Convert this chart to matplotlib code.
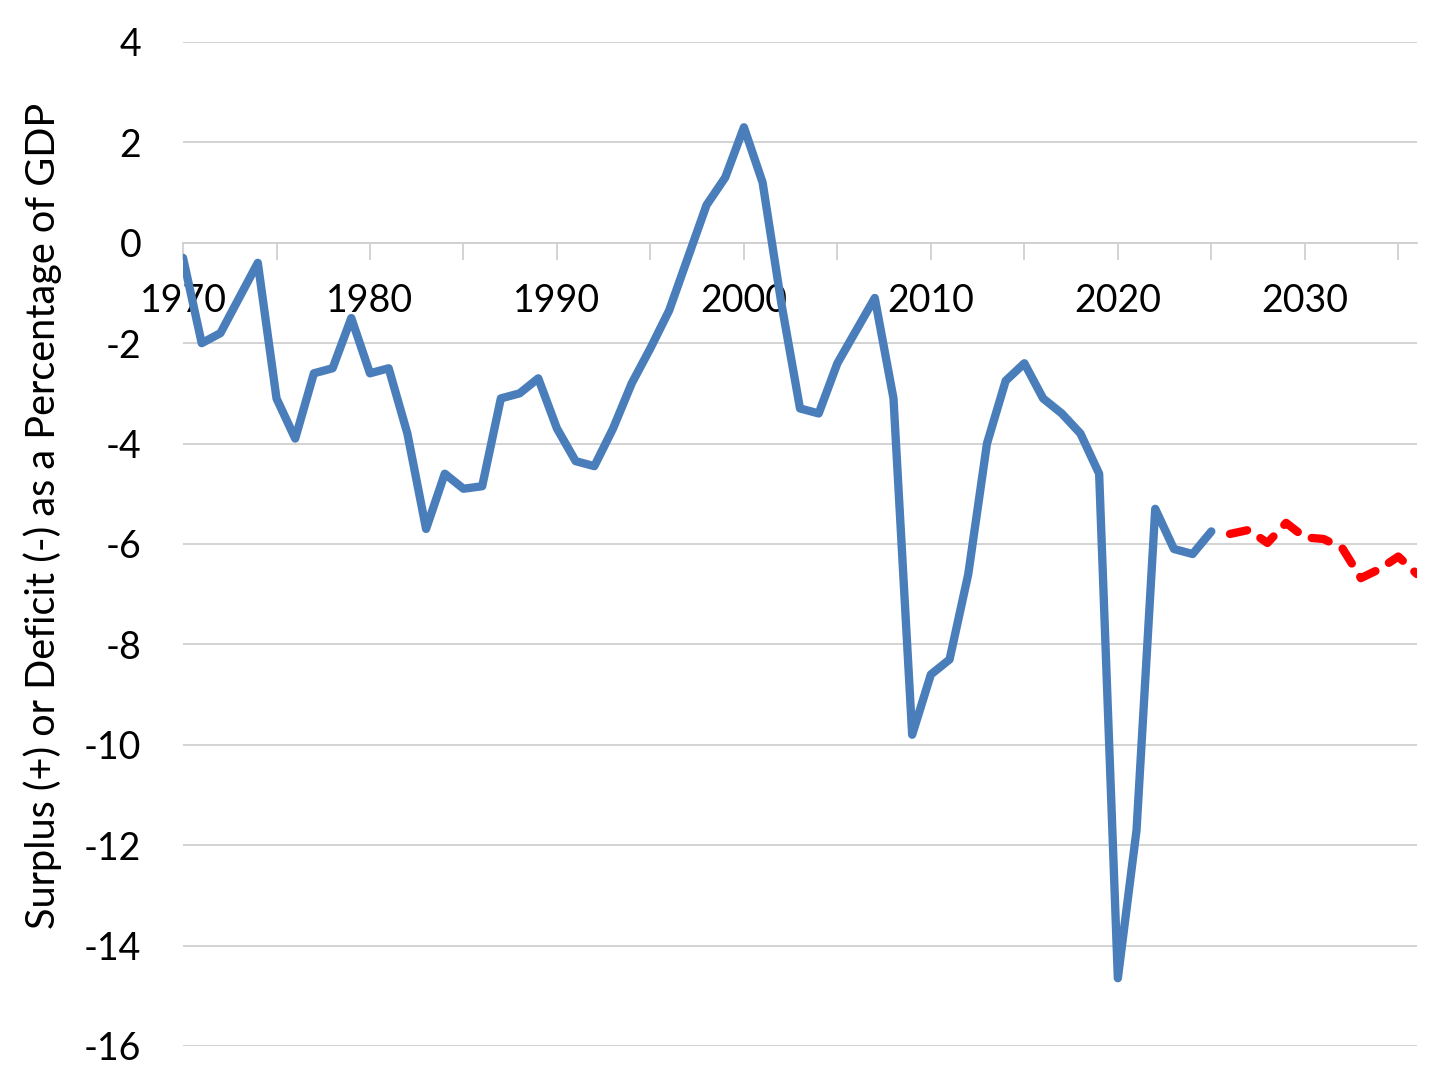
import numpy as np
import matplotlib.pyplot as plt
from matplotlib.ticker import MultipleLocator

# Actual balance, % of GDP
years_hist = list(range(1970, 2026))
balance_hist = [-0.3, -2.0, -1.8, -1.1, -0.4, -3.1, -3.9, -2.6, -2.5, -1.5,
                -2.6, -2.5, -3.8, -5.7, -4.6, -4.9, -4.85, -3.1, -3.0, -2.7,
                -3.7, -4.35, -4.45, -3.7, -2.8, -2.1, -1.35, -0.3, 0.75, 1.3,
                2.3, 1.2, -1.2, -3.3, -3.4, -2.4, -1.75, -1.1, -3.1, -9.8,
                -8.6, -8.3, -6.6, -4.0, -2.75, -2.4, -3.1, -3.4, -3.8, -4.6,
                -14.65, -11.7, -5.3, -6.1, -6.2, -5.75]

# Projection
years_proj = list(range(2026, 2037))
balance_proj = [-5.8, -5.72, -5.98, -5.58, -5.87, -5.9, -6.08, -6.68, -6.5, -6.25, -6.6]

ylabel = 'Surplus (+) or Deficit (-) as a Percentage of GDP'

plt.rcParams['font.family'] = ['Lato', 'DejaVu Sans']
plt.rcParams['axes.unicode_minus'] = False

fig = plt.figure(figsize=(14.56, 10.76), dpi=100)
ax = fig.add_axes([0.1257, 0.0279, 0.8475, 0.9331])

ax.plot(years_hist, balance_hist, color='#4A7EBB', lw=6,
        solid_joinstyle='round', solid_capstyle='round', zorder=3)
ax.plot(years_proj, balance_proj, color='#FF0000', lw=6,
        linestyle=(0, (2.1, 1.9)), dash_capstyle='round',
        dash_joinstyle='round', zorder=3)

ax.set_xlim(1970, 2036)
ax.set_ylim(-16, 4)
ax.yaxis.set_major_locator(MultipleLocator(2))
ax.xaxis.set_minor_locator(MultipleLocator(5))
ax.set_xticks(range(1970, 2031, 10))

ax.grid(axis='y', color='#D0D0D0', lw=1.3, zorder=0)
ax.set_axisbelow(True)

for s in ['top', 'right', 'left']:
    ax.spines[s].set_visible(False)
ax.spines['bottom'].set_position(('data', 0))
ax.spines['bottom'].set_color('#D0D0D0')
ax.spines['bottom'].set_linewidth(1.3)

ax.tick_params(axis='x', which='both', direction='out', length=12,
               width=1.3, color='#D0D0D0', pad=17, labelsize=27)
ax.tick_params(axis='y', length=0, pad=30, labelsize=27)

ax.set_ylabel(ylabel, fontsize=28.5)
ax.yaxis.set_label_coords(-0.098, 0.528)

fig.savefig('out.png', dpi=100)
